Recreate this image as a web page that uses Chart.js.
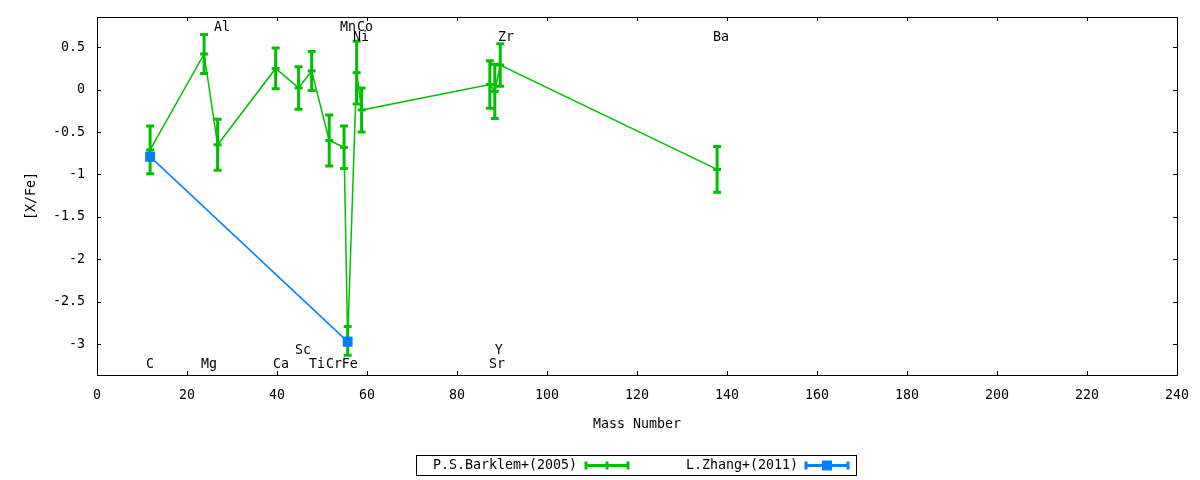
<!DOCTYPE html>
<html>
<head>
<meta charset="utf-8">
<script src="https://cdn.jsdelivr.net/npm/chart.js@4/dist/chart.umd.min.js"></script>
<style>
  body { margin: 0; background: #fff; }
  #wrap { width: 1200px; height: 480px; position: relative; }
</style>
</head>
<body>
<div id="wrap"><canvas id="c"></canvas></div>
<script>
// Barklem+2005 abundances, by mass number
const massBarklem = [11.8, 23.8, 26.8, 39.7, 44.8, 47.7, 51.6, 54.9, 55.7, 57.7, 58.8, 87.3, 88.4, 89.6, 137.8];
const xfeBarklem = [-0.71, 0.42, -0.65, 0.25, 0.02, 0.22, -0.60, -0.68, -2.96, 0.20, -0.24, 0.06, -0.02, 0.29, -0.94];
const errBarklem = [0.28, 0.23, 0.30, 0.24, 0.25, 0.23, 0.30, 0.25, 0.17, 0.37, 0.26, 0.28, 0.32, 0.25, 0.27];

// Zhang+2011
const massZhang = [11.8, 55.7];
const xfeZhang = [-0.79, -2.97];
const errZhang = [0.04, 0.04];

// element names, placed in data coordinates
const elemNames = ['C', 'Mg', 'Al', 'Ca', 'Sc', 'Ti', 'Cr', 'Fe', 'Mn', 'Co', 'Ni', 'Sr', 'Y', 'Zr', 'Ba'];
const elemLabelX = [10.9, 23.1, 26.0, 39.1, 44.0, 47.1, 50.9, 54.4, 54.0, 57.8, 56.9, 87.1, 88.4, 89.1, 136.9];
const elemLabelY = [-3.24, -3.24, 0.73, -3.24, -3.07, -3.24, -3.24, -3.24, 0.73, 0.73, 0.61, -3.24, -3.07, 0.61, 0.61];

const xTicks = [0, 20, 40, 60, 80, 100, 120, 140, 160, 180, 200, 220, 240];
const yTicks = [0.5, 0, -0.5, -1, -1.5, -2, -2.5, -3];

const FAMILY = '"DejaVu Sans Mono", monospace';
const FONT = '13.3px ' + FAMILY;
const GREEN = '#00c000';
const BLUE = '#0080ff';

const toPts = (xs, ys) => xs.map((x, i) => ({ x: x, y: ys[i] }));

// error bars for each dataset, drawn right after the dataset itself
const errorBars = {
  id: 'errorBars',
  afterDatasetDraw(chart, args) {
    const ds = chart.data.datasets[args.index];
    if (!ds.errors) return;
    const c = chart.ctx;
    const ys = chart.scales.y;
    c.save();
    c.strokeStyle = ds.borderColor;
    c.lineWidth = 3;
    args.meta.data.forEach((pt, i) => {
      const v = ds.data[i].y, e = ds.errors[i];
      const top = ys.getPixelForValue(v + e), bot = ys.getPixelForValue(v - e);
      c.beginPath();
      c.moveTo(pt.x, top); c.lineTo(pt.x, bot);
      c.moveTo(pt.x - 4, top); c.lineTo(pt.x + 4, top);
      c.moveTo(pt.x - 4, bot); c.lineTo(pt.x + 4, bot);
      c.stroke();
    });
    c.restore();
  }
};

// gnuplot-like frame, inward ticks, titles, element labels and key
const frame = {
  id: 'frame',
  afterDraw(chart) {
    const c = chart.ctx, a = chart.chartArea;
    const xs = chart.scales.x, ys = chart.scales.y;
    c.save();
    c.strokeStyle = '#000';
    c.lineWidth = 1;
    c.strokeRect(Math.round(a.left) + 0.5, Math.round(a.top) + 0.5, Math.round(a.right - a.left), Math.round(a.bottom - a.top));
    c.beginPath();
    xTicks.forEach(t => {
      const px = Math.round(xs.getPixelForValue(t)) + 0.5;
      c.moveTo(px, a.bottom); c.lineTo(px, a.bottom - 4);
      c.moveTo(px, a.top); c.lineTo(px, a.top + 4);
    });
    yTicks.forEach(t => {
      const py = Math.round(ys.getPixelForValue(t)) + 0.5;
      c.moveTo(a.left, py); c.lineTo(a.left + 4, py);
      c.moveTo(a.right, py); c.lineTo(a.right - 4, py);
    });
    c.stroke();

    c.fillStyle = '#000';
    c.font = FONT;
    c.textBaseline = 'middle';
    c.textAlign = 'left';
    elemNames.forEach((n, i) => {
      c.fillText(n, xs.getPixelForValue(elemLabelX[i]), ys.getPixelForValue(elemLabelY[i]));
    });

    c.textAlign = 'center';
    c.fillText('Mass Number', (a.left + a.right) / 2, 425);
    c.save();
    c.translate(32, (a.top + a.bottom) / 2);
    c.rotate(-Math.PI / 2);
    c.fillText('[X/Fe]', 0, 0);
    c.restore();

    // key
    c.strokeRect(416.5, 455.5, 440, 20);
    const keyY = 465.5;
    const entries = [
      { ds: chart.data.datasets[0], textRight: 577, x0: 586, x1: 628 },
      { ds: chart.data.datasets[1], textRight: 798, x0: 806, x1: 848 }
    ];
    entries.forEach(en => {
      c.fillStyle = '#000';
      c.textAlign = 'right';
      c.fillText(en.ds.label, en.textRight, keyY + 0.5);
      c.strokeStyle = en.ds.borderColor;
      c.lineWidth = 3;
      c.beginPath();
      c.moveTo(en.x0, keyY); c.lineTo(en.x1, keyY);
      c.moveTo(en.x0, keyY - 4); c.lineTo(en.x0, keyY + 4);
      c.moveTo(en.x1, keyY - 4); c.lineTo(en.x1, keyY + 4);
      c.stroke();
      const mx = (en.x0 + en.x1) / 2;
      if (en.ds.pointStyle === 'rect') {
        c.fillStyle = en.ds.borderColor;
        c.fillRect(mx - 5, keyY - 5, 10, 10);
      } else {
        c.beginPath();
        c.moveTo(mx, keyY - 4); c.lineTo(mx, keyY + 4);
        c.stroke();
      }
    });
    c.restore();
  }
};

new Chart(document.getElementById('c'), {
  type: 'scatter',
  data: {
    datasets: [{
      label: 'P.S.Barklem+(2005)',
      data: toPts(massBarklem, xfeBarklem),
      errors: errBarklem,
      showLine: true,
      borderColor: GREEN,
      backgroundColor: GREEN,
      borderWidth: 1.5,
      pointStyle: 'line',
      pointRadius: 4,
      pointBorderWidth: 3,
      order: 1
    }, {
      label: 'L.Zhang+(2011)',
      data: toPts(massZhang, xfeZhang),
      errors: errZhang,
      showLine: true,
      borderColor: BLUE,
      backgroundColor: BLUE,
      borderWidth: 1.5,
      pointStyle: 'rect',
      pointRadius: 7,
      pointBorderWidth: 0,
      order: 0
    }]
  },
  options: {
    responsive: true,
    maintainAspectRatio: false,
    animation: false,
    layout: { padding: { left: 0, top: 17, right: 23, bottom: 0 } },
    plugins: { legend: { display: false }, tooltip: { enabled: false } },
    scales: {
      x: {
        type: 'linear',
        min: 0, max: 240,
        afterFit: s => { s.height = 105; s.paddingLeft = 0; s.paddingRight = 0; },
        afterBuildTicks: s => { s.ticks = xTicks.map(v => ({ value: v })); },
        grid: { display: false, drawTicks: false },
        border: { display: false },
        ticks: { color: '#000', font: { family: FAMILY, size: 13.3 }, padding: 13, maxRotation: 0 }
      },
      y: {
        type: 'linear',
        min: -3.363, max: 0.856,
        afterFit: s => { s.width = 97; s.paddingTop = 0; s.paddingBottom = 0; },
        afterBuildTicks: s => { s.ticks = yTicks.map(v => ({ value: v })); },
        grid: { display: false, drawTicks: false },
        border: { display: false },
        ticks: { color: '#000', font: { family: FAMILY, size: 13.3 }, padding: 12, callback: v => String(Math.round(v * 10) / 10) }
      }
    }
  },
  plugins: [errorBars, frame]
});
</script>
</body>
</html>
